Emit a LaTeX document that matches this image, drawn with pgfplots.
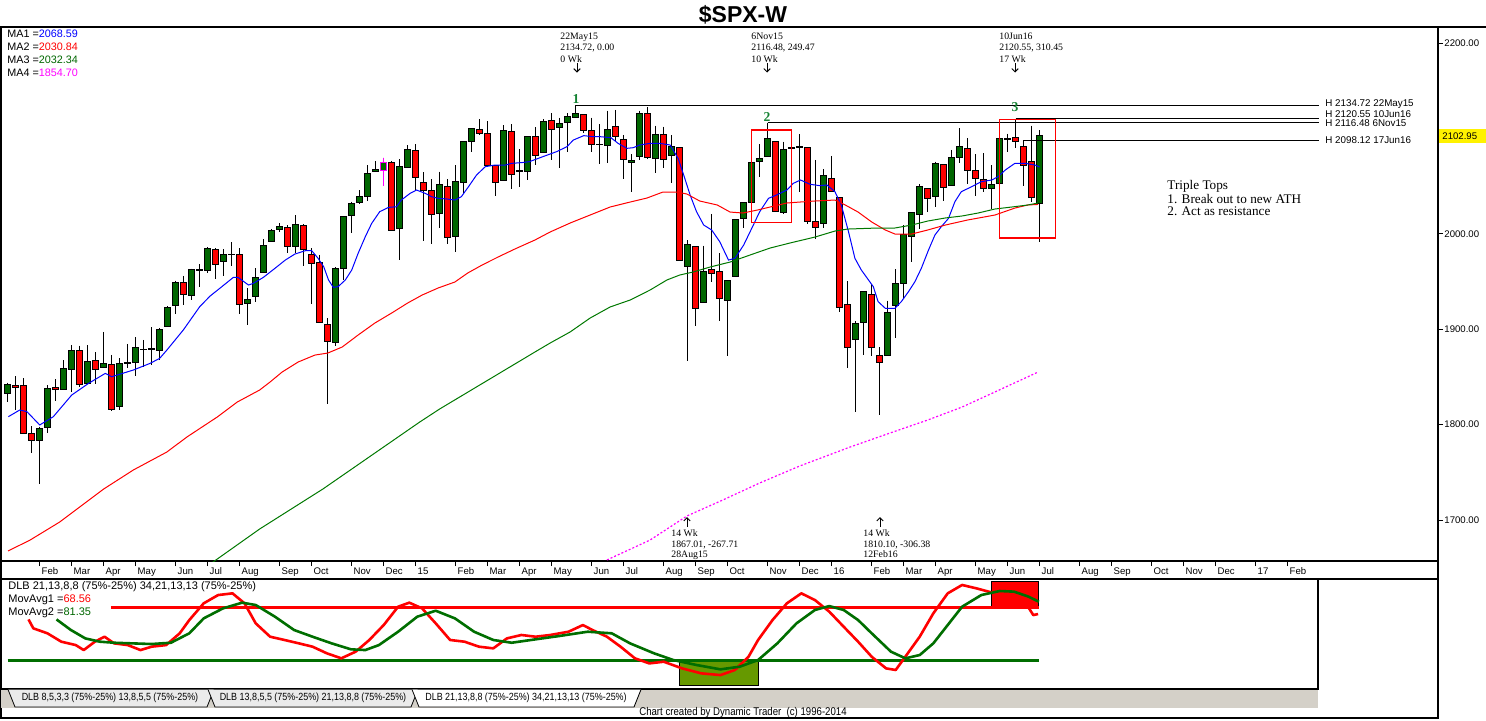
\documentclass[border=0pt]{standalone}
\usepackage{fontspec}
\setmainfont{Liberation Sans}
\newfontfamily\dtserif{Liberation Serif}
\usepackage{pgfplots}
\pgfplotsset{compat=1.18}
\usepackage{pgfplotstable}
\usetikzlibrary{arrows.meta}

\definecolor{cgreen}{RGB}{0,102,0}
\definecolor{cred}{RGB}{255,0,0}
\definecolor{magen}{RGB}{255,0,255}
\definecolor{ma3}{RGB}{0,120,0}
\definecolor{oscgreen}{RGB}{0,110,0}
\definecolor{boxolive}{RGB}{102,153,0}
\definecolor{numgreen}{RGB}{20,130,50}
\definecolor{tabgray}{RGB}{212,208,200}

\newcommand\fs[1]{\fontsize{#1}{#1}\selectfont}

% weekly candles, i = 0 is the week of 10 Jan 2014
\pgfplotstableread{
i o h l c
0 1832.8 1843.9 1823.7 1842.5
1 1841.2 1850.9 1815.3 1839.1
2 1841.2 1848.5 1790.8 1790.8
3 1790.8 1798.5 1770.6 1783.5
4 1783.5 1797.8 1737.7 1796.4
5 1797.1 1841.5 1791.5 1838.0
6 1839.1 1847.8 1825.1 1837.0
7 1837.0 1867.7 1836.3 1859.0
8 1857.9 1883.4 1834.5 1877.8
9 1877.8 1882.7 1839.8 1842.2
10 1843.2 1883.4 1842.5 1866.3
11 1867.4 1875.7 1842.5 1857.9
12 1860.0 1897.1 1859.5 1864.2
13 1863.2 1873.0 1814.6 1816.0
14 1818.8 1869.8 1815.3 1864.2
15 1863.9 1884.5 1859.0 1865.3
16 1865.3 1891.8 1851.3 1881.0
17 1878.5 1888.7 1860.0 1879.2
18 1879.2 1902.3 1862.5 1879.9
19 1877.8 1901.2 1867.7 1899.8
20 1903.0 1924.0 1902.6 1922.9
21 1925.0 1950.9 1916.3 1949.1
22 1949.1 1955.8 1925.4 1936.5
23 1935.5 1963.4 1930.6 1962.7
24 1962.0 1968.3 1944.2 1962.8
25 1961.7 1986.1 1958.5 1984.4
26 1983.7 1985.0 1953.0 1968.3
27 1971.1 1983.7 1955.8 1978.5
28 1978.0 1991.4 1966.2 1978.8
29 1978.5 1984.8 1915.9 1926.1
30 1927.1 1943.2 1904.7 1931.3
31 1934.4 1964.1 1928.5 1954.4
32 1959.6 1994.2 1958.5 1988.2
33 1991.8 2004.7 1991.1 2003.6
34 2004.3 2011.0 2002.2 2007.5
35 2006.8 2009.0 1980.2 1986.5
36 1986.5 2019.7 1979.5 2010.0
37 2008.9 2010.0 1966.6 1983.7
38 1978.5 1984.8 1926.8 1969.0
39 1970.1 1977.8 1907.2 1907.2
40 1905.1 1911.4 1821.2 1887.3
41 1886.3 1964.9 1882.7 1963.8
42 1963.8 2018.3 1951.6 2018.3
43 2019.3 2033.7 2001.2 2031.9
44 2033.0 2045.9 2030.9 2039.3
45 2039.3 2072.1 2034.7 2063.4
46 2065.8 2076.3 2065.8 2067.6
47 2066.5 2079.8 2050.5 2074.9
48 2074.9 2076.3 2003.6 2003.6
49 2005.7 2078.1 1972.9 2070.7
50 2069.7 2093.1 2069.7 2088.5
51 2087.1 2094.1 2045.9 2059.2
52 2054.0 2064.8 1992.8 2045.6
53 2045.9 2057.4 1989.0 2020.4
54 2021.1 2065.1 2005.7 2051.8
55 2049.8 2057.4 1989.3 1996.3
56 1997.3 2072.1 1981.3 2055.3
57 2054.0 2096.9 2041.7 2096.9
58 2096.9 2110.6 2086.1 2110.6
59 2109.5 2120.0 2103.9 2105.3
60 2105.3 2118.2 2071.4 2071.4
61 2071.8 2071.8 2040.0 2054.0
62 2056.0 2114.0 2056.0 2108.4
63 2107.4 2115.1 2046.6 2062.3
64 2065.0 2088.5 2049.4 2066.9
65 2065.5 2102.5 2056.4 2102.5
66 2101.8 2111.6 2072.1 2081.9
67 2085.4 2120.3 2085.4 2117.9
68 2119.3 2126.3 2077.7 2109.5
69 2111.6 2121.7 2068.6 2115.8
70 2116.8 2126.3 2086.1 2123.1
71 2121.7 2134.72 2121.0 2126.3
72 2125.2 2125.2 2105.3 2108.5
73 2108.8 2121.7 2086.1 2093.8
74 2093.2 2114.8 2072.8 2094.1
75 2092.7 2129.1 2073.9 2109.5
76 2112.7 2129.8 2097.6 2102.2
77 2099.0 2103.6 2057.1 2078.1
78 2074.9 2083.3 2044.2 2077.0
79 2080.9 2129.1 2077.4 2126.3
80 2126.3 2132.6 2078.1 2080.2
81 2079.1 2113.4 2064.1 2104.3
82 2104.3 2112.3 2068.6 2078.4
83 2082.3 2103.2 2052.9 2091.7
84 2090.0 2090.0 1972.2 1972.2
85 1965.9 1993.5 1867.01 1989.0
86 1986.9 1986.9 1903.7 1921.9
87 1928.2 1987.6 1928.2 1961.0
88 1962.8 2020.8 1949.1 1958.6
89 1960.7 1979.5 1909.0 1932.4
90 1930.3 1951.2 1872.3 1951.2
91 1955.4 2015.2 1955.4 2015.2
92 2016.2 2033.0 2005.7 2033.0
93 2033.0 2079.1 2021.5 2074.9
94 2076.0 2093.8 2059.9 2079.1
95 2081.2 2116.48 2081.2 2099.4
96 2096.9 2096.9 2022.5 2023.6
97 2022.5 2096.6 2020.4 2088.5
98 2089.4 2096.6 2070.4 2090.1
99 2090.9 2104.3 2044.2 2091.7
100 2090.6 2090.6 2009.9 2012.7
101 2012.7 2077.4 1994.6 2006.8
102 2010.6 2067.9 2006.4 2061.6
103 2058.1 2081.6 2044.5 2044.5
104 2038.2 2038.2 1918.4 1922.9
105 1926.1 1950.5 1859.0 1881.0
106 1889.4 1908.3 1812.9 1906.2
107 1906.9 1939.7 1873.0 1939.7
108 1936.6 1947.0 1872.3 1881.0
109 1872.6 1881.0 1810.10 1864.9
110 1872.6 1929.9 1872.6 1917.7
111 1924.7 1963.1 1891.1 1948.1
112 1947.7 2009.2 1932.4 1999.4
113 1997.0 2022.5 1970.1 2022.5
114 2020.4 2051.9 2005.0 2050.1
115 2047.7 2047.7 2023.2 2037.2
116 2038.9 2075.6 2028.5 2073.2
117 2072.8 2072.8 2034.4 2048.7
118 2050.8 2087.9 2050.8 2080.2
119 2080.2 2110.9 2074.6 2091.7
120 2089.6 2100.1 2052.6 2066.2
121 2066.5 2083.3 2040.0 2058.1
122 2057.1 2084.4 2044.2 2047.7
123 2047.7 2072.1 2026.0 2052.2
124 2052.9 2099.4 2047.7 2099.4
125 2099.0 2105.0 2086.1 2100.1
126 2101.1 2120.55 2090.3 2096.9
127 2091.7 2098.12 2050.5 2072.1
128 2075.6 2113.4 2033.0 2038.2
129 2031.9 2108.8 1991.8 2102.95
}\candles

\pgfplotsset{
  mainax/.style={at={(0.5pt,-280.5pt)}, anchor=south west, width=718.5pt, height=267pt,
    scale only axis, xmin=-0.84, xmax=178.79, ymin=1657.0, ymax=2216.8},
  oscax/.style={at={(0.5pt,-344.5pt)}, anchor=south west, width=658.5pt, height=55pt,
    scale only axis, xmin=-0.84, xmax=163.79, ymin=-2.36, ymax=101.42}
}

\begin{document}
\begin{tikzpicture}
\useasboundingbox (0,0) rectangle (743pt,-360pt);

% wicks
\begin{axis}[mainax, hide axis]
\addplot[draw=none, mark=none, forget plot, error bars/.cd, y dir=minus, y explicit,
  error mark=none, error bar style={draw=black, line width=0.5pt, solid}]
  table[x=i, y=h, y error expr=\thisrow{h}-\thisrow{l}] {\candles};
\end{axis}

% bodies
\begin{axis}[mainax, hide axis, ybar stacked, bar width=2.9pt]
\addplot[draw=none, fill=none] table[x=i, y expr={min(\thisrow{o},\thisrow{c})}] {\candles};
\addplot[draw=black, line width=0.5pt, fill=cgreen] table[x=i, y expr={max(\thisrow{c}-\thisrow{o},0)}] {\candles};
\addplot[draw=black, line width=0.5pt, fill=cred] table[x=i, y expr={max(\thisrow{o}-\thisrow{c},0)}] {\candles};
\end{axis}

% moving averages, levels and price scale
\begin{axis}[mainax,
  axis line style={line width=0.75pt},
  tick align=outside, major tick length=2.5pt,
  every tick/.style={black, line width=0.5pt},
  xtick pos=left, ytick pos=right, yticklabel pos=right,
  ytick={1700,1800,1900,2000,2100,2200},
  yticklabels={1700.00,1800.00,1900.00,2000.00,2100.00,2200.00},
  yticklabel style={font=\fs{4.8}, anchor=west, inner sep=0pt, xshift=0.5pt},
  xtick={4,8,12,16,21,25,29,34,38,43,47,51,56,60,64,68,73,77,82,86,90,95,99,103,108,112,116,121,125,129,134,138,143,147,151,156,160},
  xticklabels={Feb,Mar,Apr,May,Jun,Jul,Aug,Sep,Oct,Nov,Dec,15,Feb,Mar,Apr,May,Jun,Jul,Aug,Sep,Oct,Nov,Dec,16,Feb,Mar,Apr,May,Jun,Jul,Aug,Sep,Oct,Nov,Dec,17,Feb},
  xticklabel style={font=\fs{4.8}, anchor=north west, inner sep=0pt, xshift=0.8pt, yshift=-0.5pt}]
% MA1
\addplot[blue, line width=0.5pt] coordinates {(0.08,1808.3) (1.5,1815.3) (2.4,1813.6) (4.0,1799.6) (5.7,1808.3) (8.0,1831.0) (10.1,1843.2) (12.2,1853.7) (13.0,1850.2) (15.7,1857.2) (17.8,1864.2) (19.0,1869.5) (19.9,1878.2) (21.95,1899.2) (24.0,1923.6) (25.3,1934.8) (26.5,1942.8) (28.2,1954.3) (28.8,1954.3) (30.1,1946.3) (30.7,1948.1) (31.95,1954.3) (33.4,1963.8) (34.7,1972.5) (35.9,1978.8) (37.2,1982.3) (38.0,1982.3) (38.8,1974.3) (39.5,1965.5) (40.1,1951.6) (40.7,1943.9) (41.3,1944.6) (42.2,1951.6) (43.0,1962.0) (43.8,1979.5) (44.7,1997.0) (45.5,2011.0) (46.5,2023.2) (47.6,2027.7) (48.6,2028.4) (49.2,2035.4) (50.3,2042.4) (51.1,2045.9) (52.2,2042.4) (53.0,2038.9) (53.8,2037.2) (54.9,2036.5) (55.9,2035.4) (56.7,2038.9) (57.6,2049.4) (58.6,2061.6) (59.7,2070.4) (60.9,2072.1) (62.2,2072.1) (63.0,2073.9) (64.2,2074.6) (65.2,2075.6) (66.9,2080.9) (68.6,2086.1) (69.9,2091.3) (70.7,2098.3) (72.0,2102.9) (73.2,2101.8) (74.1,2101.8) (75.4,2100.8) (76.3,2094.8) (77.4,2089.6) (78.2,2090.3) (79.0,2093.1) (80.3,2094.8) (81.5,2094.8) (82.8,2093.1) (83.8,2079.1) (84.5,2061.6) (85.3,2040.7) (86.1,2023.2) (87.0,2009.2) (88.0,2004.0) (89.0,1991.8) (90.1,1972.5) (90.9,1974.3) (92.0,1988.3) (93.0,2005.7) (94.0,2023.2) (95.1,2037.2) (96.1,2040.7) (97.4,2045.9) (98.2,2052.9) (99.1,2056.4) (100.3,2051.9) (101.5,2050.5) (102.4,2051.2) (103.4,2044.2) (104.2,2030.2) (105.1,2002.2) (105.9,1974.3) (106.7,1962.1) (107.6,1951.6) (108.2,1944.6) (108.8,1928.9) (109.7,1921.9) (110.9,1921.9) (111.7,1928.9) (112.6,1939.4) (113.4,1949.8) (114.2,1963.8) (115.1,1983.0) (115.9,1998.7) (116.7,2007.5) (117.6,2016.2) (118.4,2033.7) (119.2,2044.2) (120.5,2049.4) (121.7,2054.7) (123.0,2056.4) (123.8,2059.9) (124.7,2066.9) (125.9,2073.9) (127.2,2073.9) (128.4,2072.1) (129.0,2070.0)};
% MA2
\addplot[cred, line width=0.5pt] coordinates {(0.04,1667.5) (2.8,1679.0) (6.5,1697.9) (12.0,1732.5) (15.7,1752.4) (19.9,1771.3) (22.4,1787.0) (26.2,1808.0) (28.7,1823.7) (31.5,1836.3) (32.8,1844.7) (34.3,1855.1) (36.3,1865.6) (38.4,1872.9) (40.0,1875.0) (41.8,1881.3) (43.8,1893.9) (45.9,1906.5) (48.0,1917.0) (50.0,1927.5) (51.8,1935.8) (53.8,1943.2) (55.9,1949.5) (57.5,1958.9) (59.3,1967.3) (61.3,1975.7) (63.4,1984.1) (65.9,1993.5) (67.8,2001.9) (70.3,2011.3) (72.8,2019.7) (75.3,2028.1) (77.8,2033.3) (79.9,2037.5) (81.9,2043.8) (83.7,2043.8) (84.9,2041.7) (86.5,2034.4) (88.7,2030.2) (90.3,2022.8) (91.9,2021.8) (93.7,2024.9) (95.3,2028.1) (97.4,2032.3) (99.0,2033.3) (100.9,2034.4) (103.4,2035.4) (104.7,2030.2) (106.3,2022.8) (108.0,2012.4) (109.7,2004.0) (110.9,1999.8) (113.0,1999.8) (115.0,2004.0) (117.2,2009.2) (120.0,2014.5) (123.4,2019.7) (125.9,2027.0) (127.5,2030.2) (128.8,2030.8)};
% MA3
\addplot[ma3, line width=0.5pt] coordinates {(25.0,1652.0) (31.5,1690.6) (39.4,1732.5) (51.5,1802.7) (54.0,1816.4) (65.9,1876.1) (67.8,1885.5) (70.3,1897.1) (72.8,1911.7) (75.3,1923.3) (77.8,1930.6) (80.3,1941.1) (82.4,1951.6) (84.0,1956.8) (85.7,1960.0) (87.8,1965.2) (90.3,1970.4) (92.8,1977.8) (95.3,1985.1) (97.8,1990.4) (100.9,1996.6) (103.4,2002.9) (105.0,2005.0) (108.8,2006.1) (110.9,2006.1) (113.0,2009.2) (115.0,2013.4) (117.2,2016.6) (119.3,2018.7) (121.3,2021.8) (123.4,2026.0) (125.5,2028.1) (127.5,2030.2) (128.8,2032.3)};
% MA4
\addplot[magen, line width=0.6pt, dash pattern=on 1pt off 1pt] coordinates {(74.9,1658.1) (80.3,1679.0) (84.9,1704.2) (89.4,1721.0) (94.0,1738.8) (99.0,1756.6) (105.3,1776.5) (110.3,1791.2) (115.0,1804.8) (119.3,1818.4) (123.4,1834.2) (128.7,1854.7)};
% highlighted candle
\addplot[magen, line width=0.5pt] coordinates {(47,2079.8) (47,2050.5)};
\addplot[magen, line width=0.6pt, fill=cgreen] coordinates {(46.64,2066.5) (47.36,2066.5) (47.36,2074.9) (46.64,2074.9)} -- cycle;
% highs
\addplot[black, line width=0.5pt] coordinates {(71,2134.72) (163.9,2134.72)};
\addplot[black, line width=0.5pt] coordinates {(95,2116.48) (163.9,2116.48)};
\addplot[black, line width=0.5pt] coordinates {(126,2120.55) (163.9,2120.55)};
\addplot[black, line width=0.5pt] coordinates {(127,2098.12) (163.9,2098.12)};
% boxes
\addplot[cred, line width=0.6pt] coordinates {(92.95,2108.8) (98.0,2108.8) (98.0,2012.1) (92.95,2012.1)} -- cycle;
\addplot[cred, line width=0.6pt] coordinates {(123.95,2120.0) (130.95,2120.0) (130.95,1995.6) (123.95,1995.6)} -- cycle;
\end{axis}

% oscillator panel
\begin{axis}[oscax, axis line style={line width=0.75pt}, xtick=\empty, ytick=\empty]
\addplot[fill=boxolive, draw=black, line width=0.5pt] coordinates {(84.0,25.0) (93.8,25.0) (93.8,0.8) (84.0,0.8)} -- cycle;
\addplot[fill=cred, draw=black, line width=0.5pt] coordinates {(122.97,99.5) (128.9,99.5) (128.9,75.0) (122.97,75.0)} -- cycle;
\addplot[cred, line width=1.5pt] coordinates {(12.9,75) (128.9,75)};
\addplot[oscgreen, line width=1.5pt] coordinates {(0,25) (128.9,25)};
\addplot[cred, line width=1.3pt, line join=round] coordinates {(2.6,63.3) (3.2,54.9) (4.96,50.2) (6.7,42.3) (8.5,39.1) (9.5,34.4) (10.9,42.3) (12.1,47.0) (13.3,40.7) (15.0,39.1) (16.6,34.4) (18.0,37.6) (19.8,39.1) (21.5,50.2) (22.7,62.7) (24.5,78.5) (26.3,86.3) (28.1,87.9) (29.6,78.5) (31.0,59.6) (32.8,47.0) (34.6,43.9) (36.4,40.7) (38.1,37.6) (39.9,31.3) (41.7,26.6) (43.5,32.9) (45.2,43.9) (47.0,58.0) (48.8,75.3) (50.2,79.1) (51.8,73.7) (53.5,59.6) (55.3,43.9) (57.1,42.3) (58.9,37.6) (60.7,36.0) (62.4,45.4) (64.2,48.6) (66.0,47.0) (67.8,48.6) (70.1,51.7) (71.9,58.0) (73.1,53.3) (74.9,47.0) (76.6,37.6) (78.4,26.6) (80.2,21.8) (82.0,23.4) (84.3,17.1) (86.7,12.4) (89.1,10.8) (90.9,15.6) (92.6,28.1) (93.8,43.9) (95.6,62.7) (97.4,78.5) (99.2,87.9) (100.9,81.6) (102.7,70.6) (104.5,56.4) (106.3,42.3) (108.0,28.1) (109.8,17.1) (111.0,15.6) (112.2,28.1) (114.0,47.0) (115.7,69.0) (117.5,87.9) (119.3,95.8) (121.1,92.6) (123.4,87.9) (125.2,87.9) (127.0,81.6) (128.2,67.4) (128.8,68.4)};
\addplot[oscgreen, line width=1.3pt, line join=round] coordinates {(6.1,63.3) (7.9,53.3) (9.7,45.4) (11.5,42.3) (13.3,41.3) (15.6,40.7) (18.0,40.1) (20.4,41.3) (22.7,50.2) (24.5,64.3) (26.9,73.7) (29.3,79.1) (31.0,76.9) (33.4,65.9) (35.8,53.3) (38.1,47.0) (40.5,40.7) (42.9,35.1) (44.7,34.4) (46.4,39.1) (48.8,51.7) (51.2,65.9) (53.5,71.5) (55.9,64.3) (58.3,51.7) (60.7,43.9) (63.0,41.3) (65.4,43.9) (68.9,47.6) (72.5,51.7) (75.5,50.2) (77.8,40.7) (80.8,31.3) (83.2,25.0) (86.1,20.3) (89.1,16.2) (91.5,18.7) (93.8,25.0) (96.2,40.7) (98.6,59.6) (100.9,72.2) (102.7,75.9) (104.5,72.2) (106.3,62.7) (108.0,50.2) (110.4,32.9) (112.2,26.6) (114.0,29.7) (115.7,40.7) (117.5,58.0) (119.3,75.3) (121.7,86.3) (124.0,90.1) (125.8,89.5) (127.6,84.8) (128.9,80.0)};
\end{axis}

\begin{scope}[x=0.5pt, y=-0.5pt]
% frame
\draw[line width=0.8pt] (0,27) -- (1486,27);
\draw[line width=0.8pt] (1,27) -- (1,718) -- (1438,718) -- (1438,27);
% title
\node[font=\bfseries\fs{11.5}] at (743,15) {\$SPX-W};
% MA legend
\begin{scope}[every node/.style={anchor=west, inner sep=0pt, font=\fs{5.4}}]
\node at (7,34) {MA1 =\textcolor{blue}{2068.59}};
\node at (7,47) {MA2 =\textcolor{cred}{2030.84}};
\node at (7,60) {MA3 =\textcolor{cgreen}{2032.34}};
\node at (7,73) {MA4 =\textcolor{magen}{1854.70}};
\end{scope}
% top annotations
\begin{scope}[every node/.style={anchor=base west, inner sep=0pt, font=\dtserif\fs{4.9}}]
\node at (560,39.5) {22May15};
\node at (560,50.5) {2134.72, 0.00};
\node at (560,62) {0 Wk};
\node at (751,39.5) {6Nov15};
\node at (751,50.5) {2116.48, 249.47};
\node at (751,62) {10 Wk};
\node at (999,39.5) {10Jun16};
\node at (999,50.5) {2120.55, 310.45};
\node at (999,62) {17 Wk};
\node at (671,536) {14 Wk};
\node at (671,547) {1867.01, -267.71};
\node at (671,557.5) {28Aug15};
\node at (863,536) {14 Wk};
\node at (863,547) {1810.10, -306.38};
\node at (863,557.5) {12Feb16};
\end{scope}
\begin{scope}[line width=0.5pt, -{Straight Barb[length=1.6pt, width=3.2pt]}]
\draw (577,63) -- (577,72.5);
\draw (767,63) -- (767,72.5);
\draw (1015,63) -- (1015,72.5);
\draw (687,527) -- (687,517);
\draw (880,527) -- (880,517);
\end{scope}
% pivot numbers
\begin{scope}[every node/.style={inner sep=0pt, text=numgreen, font=\dtserif\bfseries\fs{6.8}}]
\node at (576,98.5) {1};
\node at (767,116.5) {2};
\node at (1015,107) {3};
\end{scope}
% triple tops note
\begin{scope}[every node/.style={anchor=base west, inner sep=0pt, font=\dtserif\fs{6.6}}]
\node at (1167,189.5) {Triple Tops};
\node at (1167,203) {1. Break out to new ATH};
\node at (1167,215.5) {2. Act as resistance};
\end{scope}
% high labels
\begin{scope}[every node/.style={anchor=west, inner sep=0pt, font=\fs{4.9}}]
\node at (1325,104.5) {H 2134.72 22May15};
\node at (1325,114) {H 2120.55 10Jun16};
\node at (1325,123.5) {H 2116.48 6Nov15};
\node at (1325,140.5) {H 2098.12 17Jun16};
\end{scope}
% last price
\fill[yellow] (1439,129) rectangle (1486,143);
\node[anchor=west, inner sep=0pt, font=\fs{4.8}] at (1442,136) {2102.95};
% month row bottom
\draw[line width=0.75pt] (1,579) -- (1438,579);
% oscillator labels
\begin{scope}[every node/.style={anchor=west, inner sep=0pt, font=\fs{5.5}}]
\node at (8,587) {DLB 21,13,8,8 (75\%-25\%) 34,21,13,13 (75\%-25\%)};
\node at (8,600) {MovAvg1 =\textcolor{cred}{68.56}};
\node at (8,612.5) {MovAvg2 =\textcolor{cgreen}{81.35}};
\end{scope}
% tabs
\fill[tabgray] (1.4,689.5) rectangle (1318,708);
\draw[line width=0.4pt, fill=white!92!black] (8,689.5) -- (15,707) -- (207,707) -- (214,689.5);
\draw[line width=0.4pt, fill=white!92!black] (208,689.5) -- (215,707) -- (411,707) -- (418,689.5);
\draw[line width=0.4pt, fill=white] (412,689.5) -- (419,707) -- (634,707) -- (641,689.5);
\begin{scope}[every node/.style={inner sep=0pt, font=\fs{5.2}, xscale=0.86}]
\node at (110,698) {DLB 8,5,3,3 (75\%-25\%) 13,8,5,5 (75\%-25\%)};
\node at (313,698) {DLB 13,8,5,5 (75\%-25\%) 21,13,8,8 (75\%-25\%)};
\node at (526,698) {DLB 21,13,8,8 (75\%-25\%) 34,21,13,13 (75\%-25\%)};
\node[font=\fs{5.6}] at (743,712.5) {Chart created by Dynamic Trader\ \ (c) 1996-2014};
\end{scope}
\end{scope}
\end{tikzpicture}
\end{document}
